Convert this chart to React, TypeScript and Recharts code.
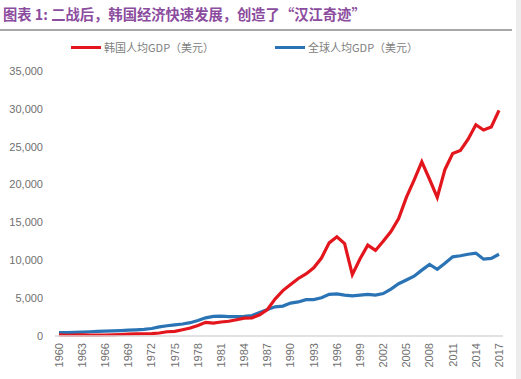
import { LineChart, Line, XAxis, YAxis } from "recharts";

const YEARS = [
  1960, 1961, 1962, 1963, 1964, 1965, 1966, 1967, 1968, 1969,
  1970, 1971, 1972, 1973, 1974, 1975, 1976, 1977, 1978, 1979,
  1980, 1981, 1982, 1983, 1984, 1985, 1986, 1987, 1988, 1989,
  1990, 1991, 1992, 1993, 1994, 1995, 1996, 1997, 1998, 1999,
  2000, 2001, 2002, 2003, 2004, 2005, 2006, 2007, 2008, 2009,
  2010, 2011, 2012, 2013, 2014, 2015, 2016, 2017,
];

// 韩国人均GDP（美元）
const KOREA = [
  150, 100, 110, 140, 120, 110, 130, 160, 200, 240,
  280, 300, 320, 400, 560, 620, 830, 1050, 1400, 1800,
  1700, 1850, 1950, 2150, 2350, 2400, 2800, 3500, 4900, 6000,
  6800, 7600, 8200, 9000, 10300, 12300, 13100, 12200, 8100, 10200,
  12000, 11300, 12500, 13800, 15500, 18300, 20600, 23000, 20700, 18300,
  22000, 24100, 24500, 26000, 27900, 27200, 27600, 29800,
];

// 全球人均GDP（美元）
const WORLD = [
  450, 460, 490, 520, 560, 600, 640, 670, 710, 770,
  820, 880, 990, 1200, 1350, 1480, 1580, 1760, 2050, 2400,
  2600, 2620, 2550, 2560, 2600, 2700, 3100, 3500, 3850, 3950,
  4350, 4500, 4800, 4800, 5050, 5500, 5550, 5400, 5300, 5400,
  5500, 5400, 5600, 6200, 6900, 7400, 7900, 8700, 9450, 8800,
  9600, 10450, 10600, 10800, 10950, 10150, 10250, 10800,
];

const Y_TICKS = [0, 5000, 10000, 15000, 20000, 25000, 30000, 35000];

const TITLE = "图表 1: 二战后，韩国经济快速发展，创造了“汉江奇迹”";
const KOREA_NAME = "韩国人均GDP（美元）";
const WORLD_NAME = "全球人均GDP（美元）";

const RED = "#e2161c";
const BLUE = "#2a74b5";
const FONT = "'Liberation Sans', 'Noto Sans CJK SC', sans-serif";
const CJK = "'Noto Sans CJK SC', sans-serif";

const data = YEARS.map((y, i) => ({ year: y, korea: KOREA[i], world: WORLD[i] }));

function YearTick({ x, y, payload }: any) {
  return (
    <text
      x={x}
      y={y}
      transform={`rotate(-90 ${x} ${y})`}
      textAnchor="end"
      dy="0.35em"
      fill="#707070"
      fontSize={11}
      fontFamily={FONT}
    >
      {payload.value}
    </text>
  );
}

function LegendItem({ color, label, left }: { color: string; label: string; left: number }) {
  return (
    <div style={{ position: "absolute", left, top: 39, display: "flex", alignItems: "center" }}>
      <div style={{ width: 30, height: 3, background: color, marginRight: 3 }} />
      <span style={{ fontFamily: CJK, fontSize: 11, color: "#808080", lineHeight: "16px" }}>{label}</span>
    </div>
  );
}

export default function App() {
  return (
    <div
      style={{
        position: "absolute",
        left: 0,
        top: 0,
        width: 521,
        height: 379,
        background: "#fff",
        overflow: "hidden",
      }}
    >
      <div
        style={{
          position: "absolute",
          left: 3,
          top: 4,
          fontFamily: CJK,
          fontSize: 14.3,
          fontWeight: 700,
          color: "#8b4c9e",
          lineHeight: "20px",
          whiteSpace: "nowrap",
        }}
      >
        {TITLE}
      </div>
      <div style={{ position: "absolute", left: 0, top: 29, width: 512, height: 2, background: "#a8a8a8" }} />
      <LegendItem color={RED} label={KOREA_NAME} left={71} />
      <LegendItem color={BLUE} label={WORLD_NAME} left={275} />
      <div style={{ position: "absolute", left: 516, top: 0, width: 5, height: 379, background: "#ececec" }} />
      <div style={{ position: "absolute", left: 0, top: 0 }}>
        <LineChart width={521} height={379} data={data} margin={{ top: 71, right: 18, left: 0, bottom: 0 }}>
          <XAxis
            dataKey="year"
            interval={2}
            padding={{ left: 4, right: 4 }}
            height={43}
            axisLine={{ stroke: "#d9d9d9", strokeWidth: 1.5 }}
            tickLine={false}
            tickSize={6}
            tickMargin={1}
            tick={<YearTick />}
          />
          <YAxis
            type="number"
            domain={[0, 35000]}
            ticks={Y_TICKS}
            width={55}
            axisLine={false}
            tickLine={false}
            tickSize={6}
            tickMargin={6}
            tickFormatter={(v: number) => v.toLocaleString("en-US")}
            tick={{ fill: "#707070", fontSize: 11, fontFamily: FONT }}
          />
          <Line
            type="linear"
            dataKey="world"
            name={WORLD_NAME}
            stroke={BLUE}
            strokeWidth={3.2}
            dot={false}
            isAnimationActive={false}
          />
          <Line
            type="linear"
            dataKey="korea"
            name={KOREA_NAME}
            stroke={RED}
            strokeWidth={3.2}
            dot={false}
            isAnimationActive={false}
          />
        </LineChart>
      </div>
    </div>
  );
}
